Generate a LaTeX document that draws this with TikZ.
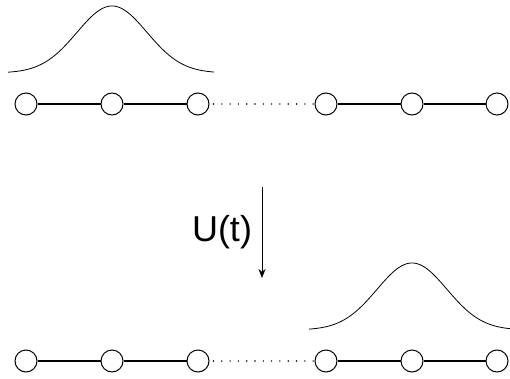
\documentclass[tikz,border=0pt]{standalone}
\usepackage{fontspec}
\setmainfont{Liberation Sans}
\usetikzlibrary{arrows.meta}
\begin{document}
\begin{tikzpicture}[x=1pt,y=1pt,
  site/.style={circle,draw,line width=1pt,minimum size=22pt,inner sep=0pt},
  bond/.style={line width=1.3pt},
  gap/.style={line width=1.6pt,line cap=round,dash pattern=on 0pt off 8.3pt,dash phase=-4pt},
  wave/.style={line width=0.8pt},
  evol/.style={line width=1pt,-{Stealth[length=9pt,width=7pt]}}]
\useasboundingbox (0,0) rectangle (510,378);
% top row
\foreach \i/\x in {1/26,2/112,3/198,4/326,5/412,6/497}{
  \node[site] (t\i) at (\x,274) {};
  \node[site] (b\i) at (\x,17) {};
}
\draw[bond] (t1) -- (t2) (t2) -- (t3) (t4) -- (t5) (t5) -- (t6);
\draw[bond] (b1) -- (b2) (b2) -- (b3) (b4) -- (b5) (b5) -- (b6);
\draw[gap] (t3.east) -- (t4.west);
\draw[gap] (b3.east) -- (b4.west);
% wave packets
\draw[wave] plot[domain=8:214,samples=120,smooth] (\x,{305+67*exp(-((\x-112)^2)/(2*35*35))});
\draw[wave] plot[domain=309:510,samples=120,smooth] (\x,{48+67*exp(-((\x-412)^2)/(2*35*35))});
% evolution
\coordinate (a0) at (262,191);
\coordinate (a1) at (262,100);
\draw[evol] (a0) -- (a1);
\node[font=\fontsize{36}{40}\selectfont] (U) at (222,146) {U(t)};
\end{tikzpicture}
\end{document}
